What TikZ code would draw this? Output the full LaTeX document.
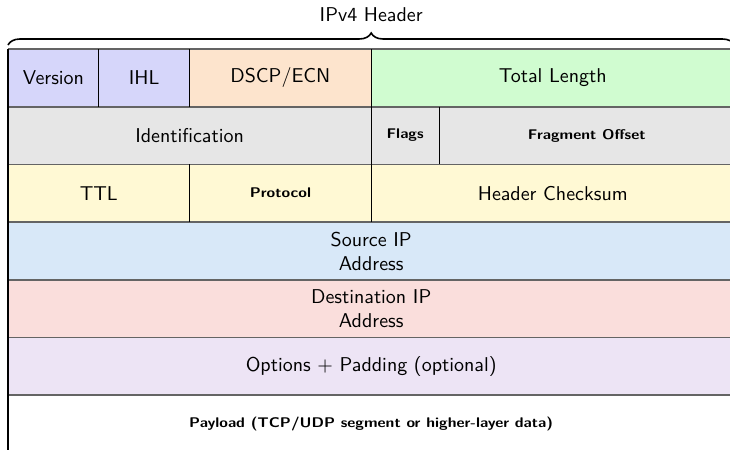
\documentclass[tikz,border=0pt]{standalone}
\usetikzlibrary{decorations.pathreplacing}

\definecolor{cVer}{RGB}{214,214,250}
\definecolor{cDscp}{RGB}{253,228,205}
\definecolor{cTot}{RGB}{208,252,208}
\definecolor{cId}{RGB}{230,230,230}
\definecolor{cTtl}{RGB}{255,249,212}
\definecolor{cSrc}{RGB}{216,232,248}
\definecolor{cDst}{RGB}{250,222,220}
\definecolor{cOpt}{RGB}{237,228,245}
\definecolor{cRule}{RGB}{100,100,100}

% small bold field names, set a little wider
\newcommand\widebold[1]{\scalebox{1.12}[1]{\bfseries\scriptsize #1}}

\tikzset{
  lbl/.style={font=\sffamily, align=center, inner sep=0pt},
  smalllbl/.style={font=\sffamily, inner sep=0pt},
  rowline/.style={draw=cRule, line width=0.85pt},
  colline/.style={draw=black, line width=0.6pt},
}

\begin{document}
\begin{tikzpicture}[x=0.5pt, y=-0.5pt]
  \useasboundingbox (0,0) rectangle (730,450);

  % column edges (1 bit = 22.7 px)
  \def\L{8} \def\cA{98.8} \def\cB{189.6} \def\cC{371.2} \def\cD{439.3} \def\R{734.4}
  % row edges
  \def\rA{49} \def\rB{106.7} \def\rC{164.4} \def\rD{222.1}
  \def\rE{279.8} \def\rF{337.5} \def\rG{395.2} \def\rH{453}

  % field fills
  \fill[cVer]  (\L,\rA) rectangle (\cB,\rB);
  \fill[cDscp] (\cB,\rA) rectangle (\cC,\rB);
  \fill[cTot]  (\cC,\rA) rectangle (\R,\rB);
  \fill[cId]   (\L,\rB) rectangle (\R,\rC);
  \fill[cTtl]  (\L,\rC) rectangle (\R,\rD);
  \fill[cSrc]  (\L,\rD) rectangle (\R,\rE);
  \fill[cDst]  (\L,\rE) rectangle (\R,\rF);
  \fill[cOpt]  (\L,\rF) rectangle (\R,\rG);
  \fill[white] (\L,\rG) rectangle (\R,\rH);

  % row separators
  \foreach \y in {\rA,\rB,\rC,\rD,\rE,\rF,\rG}
    \draw[rowline] (\L,\y) -- (\R,\y);

  % column separators
  \draw[colline] (\L,\rA) -- (\L,\rH);
  \draw[colline] (\cA,\rA) -- (\cA,\rB);
  \draw[colline] (\cB,\rA) -- (\cB,\rB);
  \draw[colline] (\cC,\rA) -- (\cC,\rB);
  \draw[colline] (\cC,\rB) -- (\cC,\rC);
  \draw[colline] (\cD,\rB) -- (\cD,\rC);
  \draw[colline] (\cB,\rC) -- (\cB,\rD);
  \draw[colline] (\cC,\rC) -- (\cC,\rD);

  % labels
  \node[lbl] (ver)   at (53.4,77.8)  {Version};
  \node[lbl] (ihl)   at (144.2,77.8) {IHL};
  \node[lbl] (dscp)  at (280.4,77.8) {DSCP/ECN};
  \node[lbl] (tot)   at (552.8,77.8) {Total Length};
  \node[lbl] (ident) at (189.6,135.5) {Identification};
  \node[smalllbl] (flags) at (405.2,135.5) {\widebold{Flags}};
  \node[smalllbl] (frag)  at (586.8,135.5) {\widebold{Fragment Offset}};
  \node[lbl] (ttl)   at (98.8,193.2) {TTL};
  \node[smalllbl] (proto) at (280.4,193.2) {\widebold{Protocol}};
  \node[lbl] (csum)  at (552.8,193.2) {Header Checksum};
  \node[lbl] (src)   at (371.2,251)  {Source IP\\Address};
  \node[lbl] (dst)   at (371.2,308.6) {Destination IP\\Address};
  \node[lbl] (opt)   at (371.2,366.3) {Options + Padding (optional)};
  \node[smalllbl] (pay) at (371.2,424) {\widebold{Payload (TCP/UDP segment or higher-layer data)}};

  % header brace
  \coordinate (bl) at (\L,45);
  \coordinate (br) at (\R,45);
  \draw[line width=0.8pt, decorate, decoration={brace, amplitude=6pt}]
    (bl) -- (br);
  \node[lbl] (hdr) at (371.2,15) {IPv4 Header};
\end{tikzpicture}
\end{document}
